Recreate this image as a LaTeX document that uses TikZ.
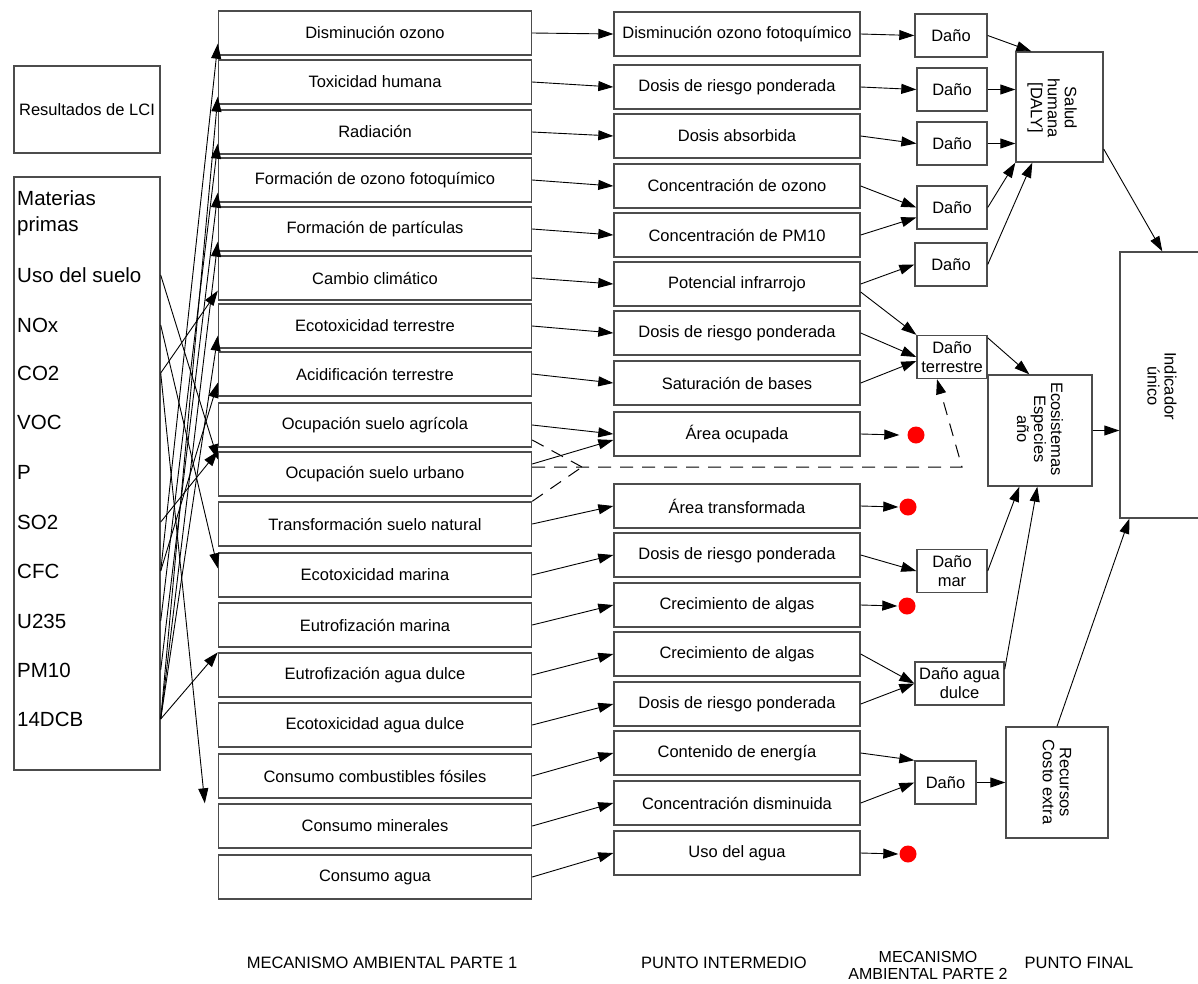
\documentclass[tikz,border=0pt]{standalone}
\usepackage{fontspec}
\setmainfont{Liberation Sans}
\usetikzlibrary{arrows.meta}

\tikzset{
  box/.style={draw=black!70, line width=1.4pt, inner sep=2pt, font=\fontsize{16.5}{19}\selectfont},
  catbox/.style={box, minimum width=313pt, minimum height=44pt},
  midbox/.style={box, minimum width=246pt, minimum height=44pt},
  danobox/.style={box, minimum height=43pt, align=center},
  item/.style={anchor=west, inner sep=0pt, align=left, font=\fontsize{20.5}{26}\selectfont},
  vtext/.style={rotate=-90, align=center, inner sep=0pt, font=\fontsize{16.5}{17}\selectfont},
  reddot/.style={circle, fill=red, inner sep=0pt, minimum size=17pt},
  link/.style={->, line width=0.9pt},
  dlink/.style={line width=1pt, dash pattern=on 13pt off 9pt},
  foot/.style={align=center, font=\fontsize{16.5}{18}\selectfont},
}

\begin{document}
\begin{tikzpicture}[x=1pt, y=-1pt, >={Triangle[length=15pt,width=10pt]}]
    \useasboundingbox (0,0) rectangle (1198,983);
    \clip (0,0) rectangle (1198,983);
    % Inventory
    \node[box, minimum width=146pt, minimum height=87pt] (res) at (87,109.5) {Resultados de LCI};
    \node[box, minimum width=146pt, minimum height=593pt] (lci) at (87,473.5) {};
    \node[item] (mp) at (17,213) {Materias\\primas};
    \node[item] (uso) at (17,275) {Uso del suelo};
    \node[item] (nox) at (17,325) {NOx};
    \node[item] (co2) at (17,373) {CO2};
    \node[item] (voc) at (17,422) {VOC};
    \node[item] (p) at (17,472) {P};
    \node[item] (so2) at (17,522) {SO2};
    \node[item] (cfc) at (17,571) {CFC};
    \node[item] (u235) at (17,621) {U235};
    \node[item] (pm10) at (17,670) {PM10};
    \node[item] (dcb) at (17,719) {14DCB};
    % Mecanismo ambiental parte 1
    \node[catbox] (c1) at (375,33) {Disminución ozono};
    \node[catbox] (c2) at (375,82) {Toxicidad humana};
    \node[catbox] (c3) at (375,132) {Radiación};
    \node[catbox] (c4) at (375,180) {Formación de ozono fotoquímico};
    \node[catbox] (c5) at (375,229) {Formación de partículas};
    \node[catbox] (c6) at (375,278) {Cambio climático};
    \node[catbox] (c7) at (375,326) {Ecotoxicidad terrestre};
    \node[catbox] (c8) at (375,374) {Acidificación terrestre};
    \node[catbox] (c9) at (375,425) {Ocupación suelo agrícola};
    \node[catbox] (c10) at (375,474) {Ocupación suelo urbano};
    \node[catbox] (c11) at (375,524) {Transformación suelo natural};
    \node[catbox] (c12) at (375,575) {Ecotoxicidad marina};
    \node[catbox] (c13) at (375,625) {Eutrofización marina};
    \node[catbox] (c14) at (375,675) {Eutrofización agua dulce};
    \node[catbox] (c15) at (375,725) {Ecotoxicidad agua dulce};
    \node[catbox] (c16) at (375,776) {Consumo combustibles fósiles};
    \node[catbox] (c17) at (375,826) {Consumo minerales};
    \node[catbox] (c18) at (375,877) {Consumo agua};
    % Punto intermedio
    \node[midbox] (m1) at (737,34) {Disminución ozono fotoquímico};
    \node[midbox] (m2) at (737,87) {Dosis de riesgo ponderada};
    \node[midbox] (m3) at (737,136) {Dosis absorbida};
    \node[midbox] (m4) at (737,186) {Concentración de ozono};
    \node[midbox] (m5) at (737,235) {Concentración de PM10};
    \node[midbox] (m6) at (737,284) {Potencial infrarrojo};
    \node[midbox] (m7) at (737,333) {Dosis de riesgo ponderada};
    \node[midbox] (m8) at (737,383) {Saturación de bases};
    \node[midbox] (m9) at (737,434) {Área ocupada};
    \node[midbox] (m10) at (737,506) {Área transformada};
    \node[midbox] (m11) at (737,555) {Dosis de riesgo ponderada};
    \node[midbox] (m12) at (737,605) {Crecimiento de algas};
    \node[midbox] (m13) at (737,654) {Crecimiento de algas};
    \node[midbox] (m14) at (737,704) {Dosis de riesgo ponderada};
    \node[midbox] (m15) at (737,753) {Contenido de energía};
    \node[midbox] (m16) at (737,803) {Concentración disminuida};
    \node[midbox] (m17) at (737,853) {Uso del agua};
    % Mecanismo ambiental parte 2
    \node[danobox, minimum width=72pt] (d1) at (951,35.5) {Daño};
    \node[danobox, minimum width=70pt] (d2) at (952,89.5) {Daño};
    \node[danobox, minimum width=70pt] (d3) at (952,143.5) {Daño};
    \node[danobox, minimum width=70pt] (d4) at (952,207.5) {Daño};
    \node[danobox, minimum width=72pt] (d5) at (951,264.5) {Daño};
    \node[danobox, minimum width=70pt, inner sep=0pt] (dterr) at (952,357) {Daño\\terrestre};
    \node[danobox, minimum width=70pt] (dmar) at (952,571) {Daño\\mar};
    \node[danobox, minimum width=89pt] (dagua) at (959.5,683.5) {Daño agua\\dulce};
    \node[danobox, minimum width=61pt] (drec) at (945.5,782.5) {Daño};
    \node[reddot] (dot1) at (916,435) {};
    \node[reddot] (dot2) at (908,507) {};
    \node[reddot] (dot3) at (907,606) {};
    \node[reddot] (dot4) at (908,854) {};
    % Punto final
    \node[box, minimum width=87pt, minimum height=110pt] (salud) at (1059.5,107) {};
    \node[vtext] (salud-t) at (1052,108) {Salud\\humana\\{[DALY]}};
    \node[box, minimum width=104pt, minimum height=111pt] (eco) at (1040,430.5) {};
    \node[vtext] (eco-t) at (1040,429) {Ecosistemas\\Especies\\año};
    \node[box, minimum width=102pt, minimum height=111pt] (rec) at (1057,782.5) {};
    \node[vtext] (rec-t) at (1057,782) {Recursos\\Costo extra};
    \node[box, minimum width=84pt, minimum height=266pt] (ind) at (1162,385) {};
    \node[vtext] (ind-t) at (1162,386) {Indicador\\único};
    % Labels
    \node[foot] (l1) at (382,963) {MECANISMO AMBIENTAL PARTE 1};
    \node[foot] (l2) at (724,963) {PUNTO INTERMEDIO};
    \node[foot, font=\fontsize{16}{17}\selectfont] (l3) at (928,965) {MECANISMO\\AMBIENTAL PARTE 2};
    \node[foot] (l4) at (1079,963) {PUNTO FINAL};

    % LCI -> categories
    \draw[link] (cfc -| lci.east) -- ([yshift=12pt]c1.south west);
    \draw[link] (dcb -| lci.east) -- ([yshift=8pt]c2.south west);
    \draw[link] (u235 -| lci.east) -- ([yshift=11pt]c3.south west);
    \draw[link] (pm10 -| lci.east) -- ([yshift=10pt]c4.south west);
    \draw[link] (dcb -| lci.east) -- ([yshift=10pt]c5.south west);
    \draw[link] (co2 -| lci.east) -- ([yshift=10pt]c6.south west);
    \draw[link] (dcb -| lci.east) -- ([yshift=13pt]c7.south west);
    \draw[link] (cfc -| lci.east) -- ([yshift=14pt]c8.south west);
    \draw[link] (so2 -| lci.east) -- (c10.north west);
    \draw[link] (uso -| lci.east) -- ([yshift=-8pt]c10.north west);
    \draw[link] (nox -| lci.east) -- ([yshift=-16pt]c12.north west);
    \draw[link] (dcb -| lci.east) -- (c14.north west);
    \draw[link] (co2 -| lci.east) -- ([xshift=-13pt]c17.north west);

    % Categories -> midpoints
    \foreach \a/\b in {c1/m1, c2/m2, c3/m3, c4/m4, c5/m5, c6/m6, c7/m7, c8/m8,
                       c9/m9, c11/m10, c12/m11, c13/m12, c14/m13, c15/m14,
                       c16/m15, c17/m16, c18/m17}
        \draw[link] (\a.east) -- (\b.west);
    \draw[link] ([yshift=10pt]c10.east) -- ([yshift=-6pt]m9.west);
    % Land use (dashed)
    \coordinate (chev) at (582,467);
    \coordinate (turn) at (962,467);
    \draw[dlink] ([yshift=-15pt]c9.east) -- (chev);
    \draw[dlink] (c11.north east) -- (chev);
    \draw[dlink, ->] ([yshift=7pt]c10.east) -- (chev) -- (turn) -- ([xshift=-15pt]dterr.south);

    % Midpoints -> damage
    \draw[link] (m1.east) -- (d1.west);
    \draw[link] (m2.east) -- (d2.west);
    \draw[link] (m3.east) -- (d3.west);
    \draw[link] (m4.east) -- (d4.west);
    \draw[link] (m5.east) -- ([yshift=-10pt]d4.west);
    \draw[link] (m6.east) -- (d5.west);
    \draw[link] ([yshift=-8pt]m6.east) -- (dterr.north west);
    \draw[link] (m7.east) -- (dterr.west);
    \draw[link] (m8.east) -- ([yshift=-4pt]dterr.west);
    \draw[link] (m9.east) -- ([xshift=-8pt]dot1.west);
    \draw[link] (m10.east) -- ([xshift=-1pt]dot2.west);
    \draw[link] (m11.east) -- (dmar.west);
    \draw[link] (m12.east) -- ([xshift=-1pt]dot3.west);
    \draw[link] (m13.east) -- (dagua.west);
    \draw[link] (m14.east) -- (dagua.west);
    \draw[link] (m15.east) -- (drec.north west);
    \draw[link] (m16.east) -- (drec.west);
    \draw[link] (m17.east) -- ([xshift=-1pt]dot4.west);

    % Damage -> endpoints
    \draw[link] (d1.east) -- ([xshift=16pt]salud.north west);
    \draw[link] (d2.east) -- (d2.east -| salud.west);
    \draw[link] (d3.east) -- (d3.east -| salud.west);
    \draw[link] (d4.east) -- (salud.south west);
    \draw[link] (d5.east) -- ([xshift=17pt]salud.south west);
    \draw[link] ([yshift=-3pt]dterr.north east) -- ([xshift=42pt]eco.north west);
    \draw[link] (dmar.east) -- ([xshift=32pt]eco.south west);
    \draw[link] ([yshift=-8pt]dagua.north east) -- ([xshift=50pt]eco.south west);
    \draw[link] (drec.east) -- (rec.west);
    % Endpoints -> single indicator
    \draw[link] ([yshift=-42pt]salud.east) -- ([xshift=43pt]ind.north west);
    \draw[link] (eco.east) -- (eco.east -| ind.west);
    \draw[link] (rec.north) -- ([xshift=10pt]ind.south west);
\end{tikzpicture}
\end{document}
